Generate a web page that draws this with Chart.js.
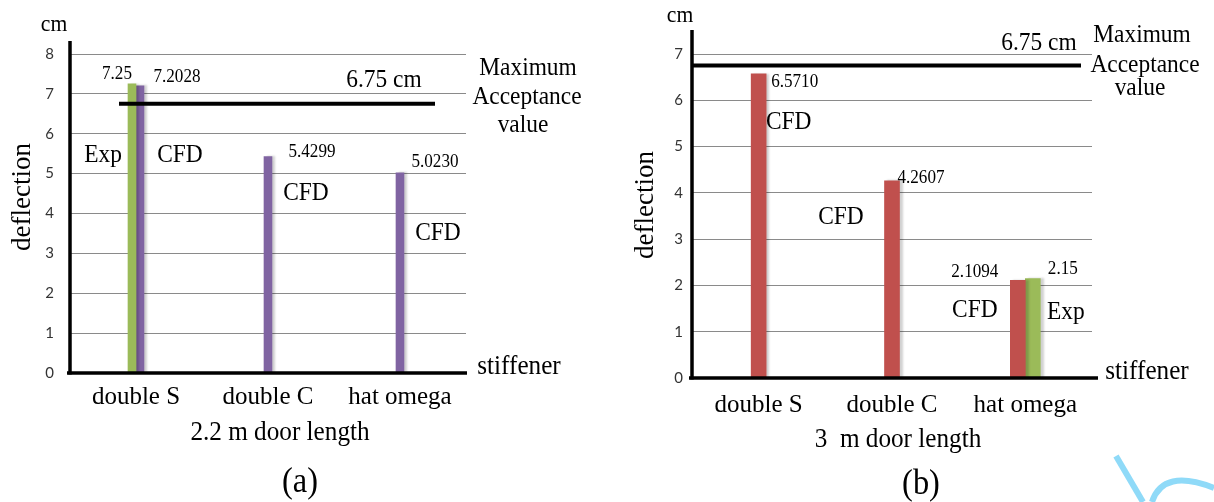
<!DOCTYPE html>
<html>
<head>
<meta charset="utf-8">
<script src="https://cdn.jsdelivr.net/npm/chart.js@4.4.1/dist/chart.umd.min.js"></script>
<style>
  html, body { margin: 0; padding: 0; background: #fff; }
  #wrap { position: relative; width: 1214px; height: 502px; overflow: hidden; }
  canvas { position: absolute; top: 0; }
  #chartA { left: 0; }
  #chartB { left: 607px; }
  svg { position: absolute; left: 0; top: 0; pointer-events: none; }
</style>
</head>
<body>
<div id="wrap">
  <canvas id="chartA" width="607" height="502"></canvas>
  <canvas id="chartB" width="607" height="502"></canvas>
  <svg width="1214" height="502">
    <path d="M1116 456 L1143 502" stroke="#8fdaf8" stroke-width="6" fill="none"/>
    <path d="M1152 502 Q1163 468 1214 488" stroke="#8fdaf8" stroke-width="6" fill="none"/>
  </svg>
</div>
<script>
// data
const categories = ['double S', 'double C', 'hat omega'];
const expShort = [7.25, null, null];        // 2.2 m door, experiment
const cfdShort = [7.2028, 5.4299, 5.0230];  // 2.2 m door, CFD
const cfdLong = [6.5710, 4.2607, 2.1094];   // 3 m door, CFD
const expLong = [null, null, 2.15];         // 3 m door, experiment
const maxAcceptance = 6.75;                 // cm
const yRangeShort = [0, 8];
const yRangeLong = [0, 7];

const GREEN = '#9BBB59';
const PURPLE = '#8064A2';
const RED = '#C0504D';
const SERIF = '"Liberation Serif", "Times New Roman", serif';

// serif text, squeezed a bit horizontally like the scanned figure
function txt(ctx, s, x, y, size, rot) {
    ctx.save();
    ctx.font = size + 'px ' + SERIF;
    ctx.fillStyle = '#000';
    ctx.textAlign = 'center';
    ctx.textBaseline = 'middle';
    ctx.translate(x, y);
    if (rot) {
        ctx.rotate(rot);
    } else {
        ctx.scale(0.9, 1);
    }
    ctx.fillText(s, 0, 0);
    ctx.restore();
}

const figureNotes = {
    id: 'figureNotes',
    beforeDatasetsDraw(chart) {
        const ctx = chart.ctx;
        ctx.save();
        ctx.shadowColor = 'rgba(0,0,0,0.18)';
        ctx.shadowOffsetX = 3;
        ctx.shadowBlur = 2;
    },
    afterDatasetsDraw(chart, args, o) {
        const ctx = chart.ctx;
        ctx.restore();
        const area = chart.chartArea;
        const yScale = chart.scales.y;

        // heavy black axes
        ctx.save();
        ctx.strokeStyle = '#000';
        ctx.lineWidth = 3.5;
        ctx.beginPath();
        ctx.moveTo(area.left, area.top - o.axisExtra);
        ctx.lineTo(area.left, area.bottom + 1.5);
        ctx.stroke();
        ctx.beginPath();
        ctx.moveTo(area.left - 3, area.bottom);
        ctx.lineTo(area.right + o.xAxisExtra, area.bottom);
        ctx.stroke();

        // maximum acceptance line
        const ly = yScale.getPixelForValue(maxAcceptance);
        ctx.lineWidth = 4;
        ctx.beginPath();
        ctx.moveTo(o.limitFrom, ly);
        ctx.lineTo(o.limitTo, ly);
        ctx.stroke();
        ctx.restore();

        // value + series name next to each bar
        chart.data.datasets.forEach((ds, di) => {
            const meta = chart.getDatasetMeta(di);
            meta.data.forEach((bar, i) => {
                const v = ds.data[i];
                const n = o.barNotes[di][i];
                if (v == null || !n) return;
                const label = ds.label === 'CFD' ? v.toFixed(4) : String(v);
                txt(ctx, label, bar.x + n[0], bar.y + n[1], 19);
                txt(ctx, ds.label, bar.x + n[2], bar.y + n[3], 26);
            });
        });

        // free text
        o.texts.forEach(t => txt(ctx, t[0], t[1], t[2], t[3], t[4]));
    }
};

function makeChart(id, datasets, yRange, L, notes) {
    return new Chart(document.getElementById(id), {
        type: 'bar',
        data: { labels: categories, datasets: datasets },
        options: {
            responsive: false,
            animation: false,
            layout: { padding: { left: 0, right: L.right, top: L.top, bottom: 0 } },
            datasets: { bar: { barThickness: L.bar, skipNull: true } },
            plugins: {
                legend: { display: false },
                tooltip: { enabled: false },
                figureNotes: notes
            },
            scales: {
                x: {
                    type: 'category',
                    offset: true,
                    grid: { display: false, drawTicks: false },
                    border: { display: false },
                    ticks: {
                        font: { family: SERIF, size: 25 },
                        color: '#000',
                        padding: L.xPad,
                        maxRotation: 0,
                        autoSkip: false
                    },
                    afterFit: s => { s.height = L.xHeight; }
                },
                y: {
                    min: yRange[0],
                    max: yRange[1],
                    grid: { color: '#8a8a8a', lineWidth: 1, drawTicks: false },
                    border: { display: false },
                    ticks: {
                        stepSize: 1,
                        font: { family: 'Lato', size: 15 },
                        color: '#333',
                        padding: L.yPad
                    },
                    afterFit: s => { s.width = L.yWidth; }
                }
            }
        },
        plugins: [figureNotes]
    });
}

// (a) 2.2 m door length
makeChart('chartA', [
    { label: 'Exp', data: expShort, backgroundColor: GREEN },
    { label: 'CFD', data: cfdShort, backgroundColor: PURPLE }
], yRangeShort,
{ right: 141, top: 54, xHeight: 129, yWidth: 70, bar: 8, xPad: 9, yPad: 16 },
{
    axisExtra: 13, xAxisExtra: 1, limitFrom: 119, limitTo: 435,
    barNotes: [
        [[-15, -10, -29, 71], null, null],
        [[37, -9, 40, 69], [44, -4.5, 38, 36.5], [35, -11, 38, 60]]
    ],
    texts: [
        ['cm', 54, 25, 24],
        ['6.75 cm', 384, 80, 26],
        ['Maximum', 528, 68, 26],
        ['Acceptance', 527, 97, 26],
        ['value', 523, 125, 26],
        ['stiffener', 519, 367, 28],
        ['deflection', 23, 197, 27, -Math.PI / 2],
        ['2.2 m door length', 280, 433, 28],
        ['(a)', 300, 483, 36]
    ]
});

// (b) 3 m door length
makeChart('chartB', [
    { label: 'CFD', data: cfdLong, backgroundColor: RED },
    { label: 'Exp', data: expLong, backgroundColor: GREEN }
], yRangeLong,
{ right: 122, top: 54, xHeight: 124, yWidth: 85, bar: 15, xPad: 12, yPad: 9 },
{
    axisExtra: 24, xAxisExtra: 6, limitFrom: 85, limitTo: 474,
    barNotes: [
        [[36, 8, 30, 48], [29, -3, -51, 36], [-43, -8, -43, 30]],
        [null, null, [30, -9.5, 33, 33.5]]
    ],
    texts: [
        ['cm', 73, 16, 24],
        ['6.75 cm', 432, 43, 26],
        ['Maximum', 535, 35, 26],
        ['Acceptance', 538, 65, 26],
        ['value', 533, 88, 26],
        ['stiffener', 540, 372, 28],
        ['deflection', 39, 205, 27, -Math.PI / 2],
        ['3  m door length', 291, 440, 28],
        ['(b)', 314, 485, 36]
    ]
});
</script>
</body>
</html>
